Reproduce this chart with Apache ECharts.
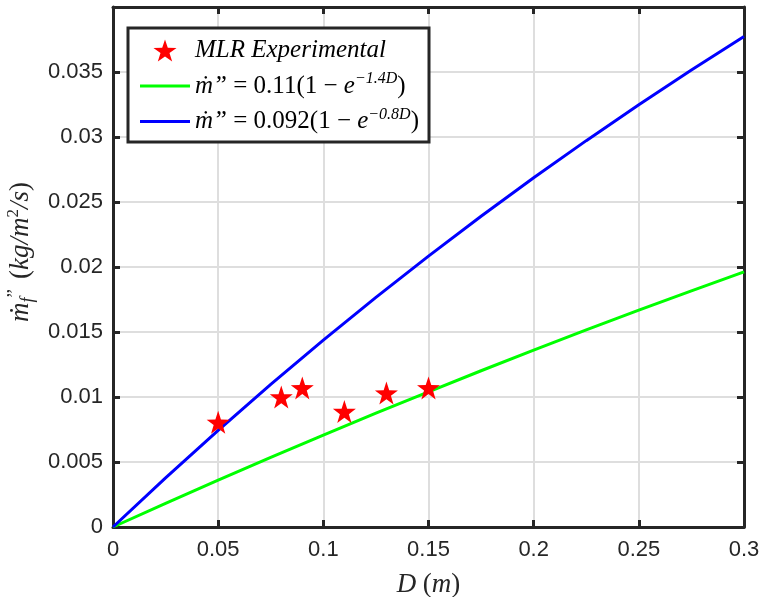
<!DOCTYPE html>
<html>
<head>
<meta charset="utf-8">
<script src="https://cdn.jsdelivr.net/npm/echarts@6/dist/echarts.min.js"></script>
<style>html,body{margin:0;padding:0;background:#fff}#c{width:762px;height:597px}</style>
</head>
<body>
<div id="c"></div>
<script>
// ---- data ----
const starX = [0.05, 0.08, 0.09, 0.11, 0.13, 0.15];
const starY = [0.00805, 0.0100, 0.0107, 0.00888, 0.0103, 0.0107];

const curveX = [0, 0.025, 0.05, 0.075, 0.1, 0.125, 0.15, 0.175, 0.2, 0.225, 0.25, 0.275, 0.3];
// upper (blue) curve
const blueY = [0, 0.00378, 0.00744, 0.01097, 0.01437, 0.01766, 0.02084, 0.02390, 0.02686, 0.02972, 0.03248, 0.03515, 0.03773];
// lower (green) curve
const greenY = [0, 0.00182, 0.00361, 0.00536, 0.00707, 0.00876, 0.01040, 0.01202, 0.01360, 0.01516, 0.01668, 0.01817, 0.01963];

const xTickLabels = ['0', '0.05', '0.1', '0.15', '0.2', '0.25', '0.3'];
const yTickLabels = ['0', '0.005', '0.01', '0.015', '0.02', '0.025', '0.03', '0.035'];

const names = ['MLR Experimental', 'm1', 'm2'];
const legendRich = {
  'MLR Experimental': '{i|MLR Experimental}',
  'm1': '{i|ṁ”} {r|= 0.11(1 − }{i|e}{s|−1.4D}{r|)}',
  'm2': '{i|ṁ”} {r|= 0.092(1 − }{i|e}{s|−0.8D}{r|)}'
};

const zip = (xs, ys) => xs.map((x, i) => [x, ys[i]]);

const axisCol = '#262626';
const tickFont = {fontFamily: 'Liberation Sans', fontSize: 22, color: axisCol};
const serif = 'Liberation Serif';
const lineIcon = 'path://M0,0 L50,0 L50,3 L0,3 Z';
const starPath = 'path://M50,0 L61.8,35.3 L99,35.6 L69.1,57.7 L80.4,93.3 L50,71.7 L19.6,93.3 L30.9,57.7 L1,35.6 L38.2,35.3 Z';

const chart = echarts.init(document.getElementById('c'), null, {renderer: 'canvas'});

function lblX(v) {
  const i = Math.round(v / 0.05);
  return Math.abs(v - i * 0.05) < 1e-9 && xTickLabels[i] !== undefined ? xTickLabels[i] : '';
}
function lblY(v) {
  const i = Math.round(v / 0.005);
  return Math.abs(v - i * 0.005) < 1e-9 && yTickLabels[i] !== undefined ? yTickLabels[i] : '';
}

const baseX = {
  type: 'value', min: 0, max: 0.3, interval: 0.05,
  axisLine: {show: true, onZero: false, lineStyle: {color: axisCol, width: 3}},
  axisTick: {show: true, inside: true, length: 7, lineStyle: {color: axisCol, width: 3}},
};
const baseY = {
  type: 'value', min: 0, max: 0.04, interval: 0.005,
  axisLine: {show: true, onZero: false, lineStyle: {color: axisCol, width: 3}},
  axisTick: {show: true, inside: true, length: 7, lineStyle: {color: axisCol, width: 3}},
};

chart.setOption({
  animation: false,
  backgroundColor: '#fff',
  grid: {left: 113, right: 18, top: 7, bottom: 70, containLabel: false, outerBoundsMode: 'none'},
  xAxis: [
    Object.assign({}, baseX, {
      position: 'bottom',
      axisLabel: Object.assign({margin: 12, formatter: lblX}, tickFont),
      splitLine: {show: true, lineStyle: {color: '#dedede', width: 2}},
      name: '{i|D}  {r|(}{i|m}{r|)}', nameLocation: 'middle', nameGap: 44,
      nameTextStyle: {
        color: axisCol,
        rich: {
          i: {fontFamily: serif, fontStyle: 'italic', fontSize: 27, color: axisCol},
          r: {fontFamily: serif, fontSize: 27, color: axisCol}
        }
      }
    }),
    Object.assign({}, baseX, {
      position: 'top',
      axisLabel: {show: false},
      splitLine: {show: false}
    })
  ],
  yAxis: [
    Object.assign({}, baseY, {
      position: 'left',
      axisLabel: Object.assign({margin: 10, formatter: lblY}, tickFont),
      splitLine: {show: true, lineStyle: {color: '#dedede', width: 2}},
      name: '{i|ṁ}{sb|f}{sp|”}   {r|(}{i|kg/m}{sp2|2}{i|/s}{r|)}',
      nameLocation: 'middle', nameRotate: 90, nameGap: 68,
      nameTextStyle: {
        color: axisCol,
        padding: [0, 0, 0, 30],
        rich: {
          i: {fontFamily: serif, fontStyle: 'italic', fontSize: 27, color: axisCol, lineHeight: 32},
          r: {fontFamily: serif, fontSize: 27, color: axisCol, lineHeight: 32},
          sb: {fontFamily: serif, fontStyle: 'italic', fontSize: 18, color: axisCol, verticalAlign: 'bottom', lineHeight: 18},
          sp: {fontFamily: serif, fontSize: 19, color: axisCol, verticalAlign: 'top', lineHeight: 19},
          sp2: {fontFamily: serif, fontSize: 17, color: axisCol, verticalAlign: 'top', lineHeight: 17}
        }
      }
    }),
    Object.assign({}, baseY, {
      position: 'right',
      axisLabel: {show: false},
      splitLine: {show: false}
    })
  ],
  legend: {
    show: true,
    orient: 'vertical',
    left: 128, top: 28,
    backgroundColor: '#fff',
    borderColor: '#262626', borderWidth: 3,
    padding: [10, 10, 8, 12],
    itemWidth: 50, itemHeight: 22, itemGap: 8,
    data: [
      {name: names[0], icon: starPath},
      {name: names[1], icon: lineIcon},
      {name: names[2], icon: lineIcon}
    ],
    formatter: n => legendRich[n],
    textStyle: {
      fontFamily: serif, fontSize: 25, color: '#000',
      rich: {
        i: {fontFamily: serif, fontStyle: 'italic', fontSize: 25, color: '#000', lineHeight: 30},
        r: {fontFamily: serif, fontSize: 25, color: '#000', lineHeight: 30},
        s: {fontFamily: serif, fontStyle: 'italic', fontSize: 16, color: '#000', verticalAlign: 'top', lineHeight: 16}
      }
    }
  },
  series: [
    {
      name: names[0], type: 'scatter', xAxisIndex: 0, yAxisIndex: 0,
      symbol: starPath,
      symbolSize: 23,
      itemStyle: {color: '#ff0000', opacity: 1},
      data: zip(starX, starY), z: 5
    },
    {
      name: names[1], type: 'line', xAxisIndex: 0, yAxisIndex: 0,
      symbol: 'none', showSymbol: false,
      lineStyle: {color: '#00ff00', width: 3}, itemStyle: {color: '#00ff00'},
      data: zip(curveX, greenY), z: 3
    },
    {
      name: names[2], type: 'line', xAxisIndex: 0, yAxisIndex: 0,
      symbol: 'none', showSymbol: false,
      lineStyle: {color: '#0000ff', width: 3}, itemStyle: {color: '#0000ff'},
      data: zip(curveX, blueY), z: 3
    }
  ]
});
</script>
</body>
</html>
